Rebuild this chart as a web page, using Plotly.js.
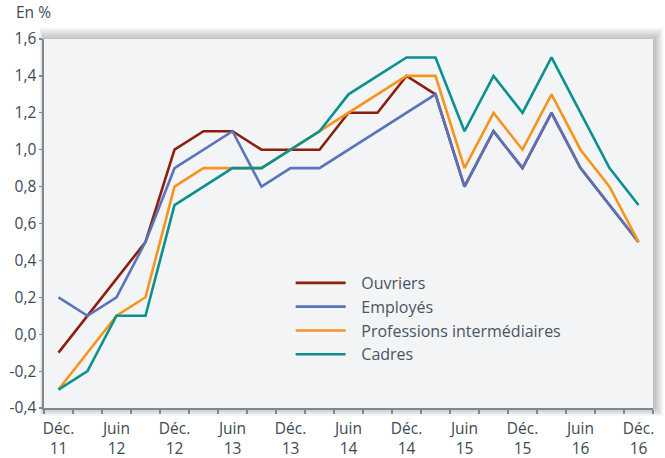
<!DOCTYPE html>
<html>
<head>
<meta charset="utf-8">
<script src="https://cdn.plot.ly/plotly-3.0.1.min.js"></script>
<style>html,body{margin:0;padding:0;background:#fff;}#chart{width:665px;height:458px;}</style>
</head>
<body>
<div id="chart"></div>
<script>
// Quarters (Dec 2011 -> Dec 2016)
const quarters = ["Déc. 11","Mars 12","Juin 12","Sept. 12","Déc. 12","Mars 13","Juin 13","Sept. 13","Déc. 13","Mars 14","Juin 14","Sept. 14","Déc. 14","Mars 15","Juin 15","Sept. 15","Déc. 15","Mars 16","Juin 16","Sept. 16","Déc. 16"];
const tickLabels = ["Déc.<br>11","","Juin<br>12","","Déc.<br>12","","Juin<br>13","","Déc.<br>13","","Juin<br>14","","Déc.<br>14","","Juin<br>15","","Déc.<br>15","","Juin<br>16","","Déc.<br>16"];
const seriesNames = ["Ouvriers","Employés","Professions intermédiaires","Cadres"];
const ouvriers   = [-0.1,0.1,0.3,0.5,1.0,1.1,1.1,1.0,1.0,1.0,1.2,1.2,1.4,1.3,0.8,1.1,0.9,1.2,0.9,0.7,0.5];
const employes   = [0.2,0.1,0.2,0.5,0.9,1.0,1.1,0.8,0.9,0.9,1.0,1.1,1.2,1.3,0.8,1.1,0.9,1.2,0.9,0.7,0.5];
const professions= [-0.3,-0.1,0.1,0.2,0.8,0.9,0.9,0.9,1.0,1.1,1.2,1.3,1.4,1.4,0.9,1.2,1.0,1.3,1.0,0.8,0.5];
const cadres     = [-0.3,-0.2,0.1,0.1,0.7,0.8,0.9,0.9,1.0,1.1,1.3,1.4,1.5,1.5,1.1,1.4,1.2,1.5,1.2,0.9,0.7];
const yTicks = [-0.4,-0.2,0,0.2,0.4,0.6,0.8,1.0,1.2,1.4,1.6];
const yTickText = ["-0,4","-0,2","0,0","0,2","0,4","0,6","0,8","1,0","1,2","1,4","1,6"];

const font = "Open Sans, Noto Sans, sans-serif";
const txt = "#3e4953";
const pad = "\u2002\u2009";
function tr(name, y, color){
  return {type:"scatter", mode:"lines", name:pad + name, x:quarters, y:y,
          line:{color:color, width:2.6}, hoverinfo:"skip"};
}
const data = [
  tr(seriesNames[0], ouvriers, "#8c1f0e"),
  tr(seriesNames[1], employes, "#5a74bb"),
  tr(seriesNames[2], professions, "#f7941d"),
  tr(seriesNames[3], cadres, "#0c9090")
];

const W = 609, H = 369;
const shapes = [];
for (let k = 1; k <= 9; k++) {
  shapes.push({type:"rect", xref:"paper", yref:"paper", layer:"below",
    x0: -(k*0.5)/W, x1: 1 + (k+1.5)/W, y0: -(k*0.9)/H, y1: 1 + (k*1.3)/H,
    line:{width:0}, fillcolor:"rgba(0,0,0,0.027)"});
}
shapes.push({type:"rect", xref:"paper", yref:"paper", layer:"below",
  x0:0, x1:1, y0:0, y1:1, line:{width:0}, fillcolor:"#f2f4f6"});

const layout = {
  width:665, height:458,
  margin:{l:44, r:12, t:39, b:50, pad:0},
  paper_bgcolor:"#ffffff", plot_bgcolor:"rgba(0,0,0,0)",
  font:{family:font, size:15.5, color:txt},
  showlegend:true,
  legend:{x:0.405, y:0.385, xanchor:"left", yanchor:"top", bgcolor:"rgba(0,0,0,0)",
          font:{family:font, size:16, color:"#4a5560"}, itemwidth:50, tracegroupgap:0},
  xaxis:{type:"category", categoryorder:"array", categoryarray:quarters,
         range:[-0.5, 20.5], tickmode:"array", tickvals:quarters, ticktext:tickLabels,
         tickson:"boundaries", ticks:"outside", ticklen:4, tickwidth:1.2, tickcolor:"#7f878f",
         tickangle:0, automargin:false, ticklabelstandoff:6,
         showline:true, linecolor:"#7f878f", linewidth:1.6, showgrid:false, zeroline:false,
         tickfont:{family:font, size:15.5, color:txt}, fixedrange:true},
  yaxis:{range:[-0.4, 1.6], tickmode:"array", tickvals:yTicks, ticktext:yTickText,
         ticks:"outside", ticklen:3, tickwidth:1.2, tickcolor:"#7f878f", automargin:false,
         showline:true, linecolor:"#7f878f", linewidth:1.6, showgrid:false, zeroline:false,
         tickfont:{family:font, size:15.5, color:txt}, fixedrange:true},
  shapes: shapes,
  annotations:[{text:"En %", xref:"paper", yref:"paper", x:-0.05, y:1.0, xanchor:"left", yanchor:"bottom",
                yshift:14, showarrow:false, font:{family:font, size:15.5, color:txt}}]
};
Plotly.newPlot("chart", data, layout, {displayModeBar:false, staticPlot:true});
</script>
</body>
</html>
